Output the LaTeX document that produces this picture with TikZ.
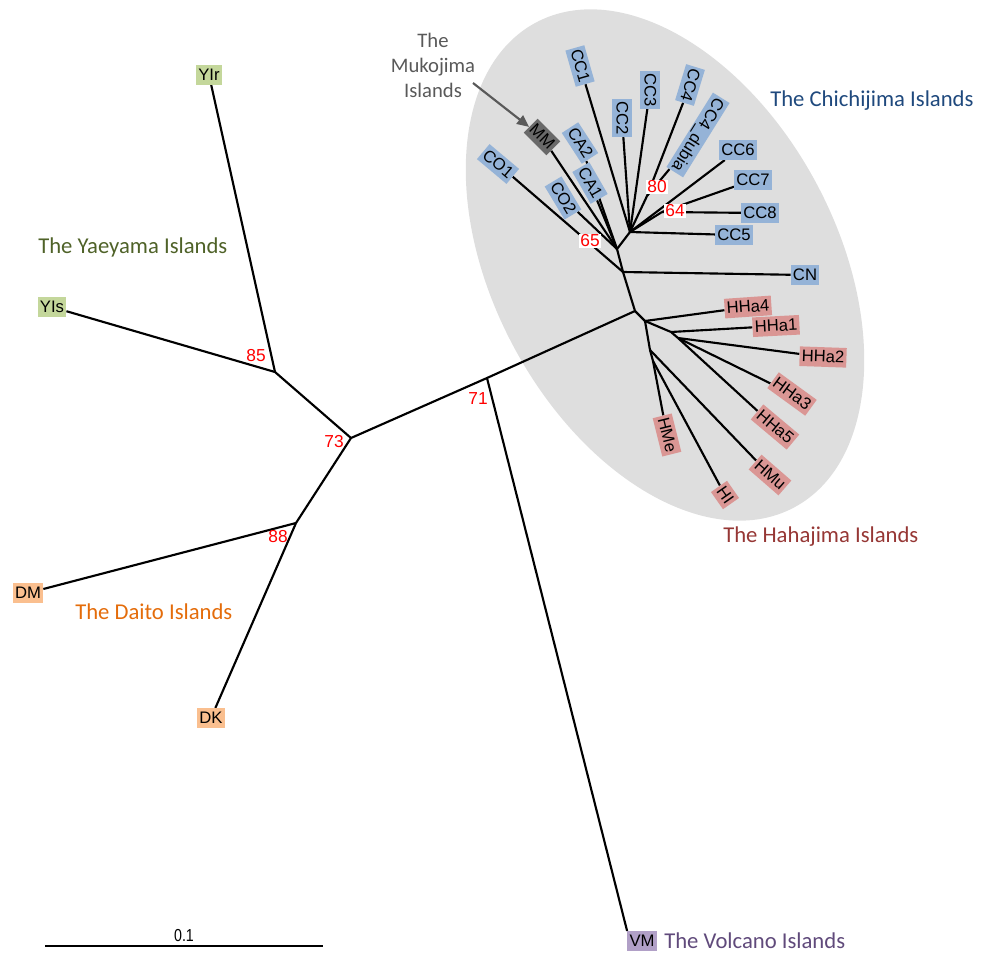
\documentclass[tikz,border=0pt]{standalone}
\usepackage{fontspec}
\setmainfont{Liberation Sans}
\newfontfamily\calibrifont{Carlito}
\usetikzlibrary{arrows.meta}
\definecolor{ellgray}{RGB}{222,222,222}
\definecolor{cbblue}{RGB}{149,179,215}
\definecolor{hpink}{RGB}{218,150,148}
\definecolor{ygreen}{RGB}{196,215,155}
\definecolor{dorange}{RGB}{250,191,143}
\definecolor{vpurple}{RGB}{177,160,199}
\definecolor{mmgray}{RGB}{105,105,105}
\definecolor{chichi}{RGB}{31,73,125}
\definecolor{haha}{RGB}{150,55,53}
\definecolor{yaeyama}{RGB}{79,98,40}
\definecolor{daito}{RGB}{228,108,10}
\definecolor{volcano}{RGB}{96,74,123}
\definecolor{muko}{RGB}{89,89,89}
\pgfdeclarelayer{back}
\pgfdeclarelayer{edges}
\pgfsetlayers{back,edges,main}
\begin{document}
\begin{tikzpicture}[x=0.75pt,y=-0.75pt,
  edge/.style={line width=1.6pt, black},
  leaf/.style={font=\fontsize{12.5}{14}\selectfont, inner xsep=1.6pt, inner ysep=2.2pt, text height=9.1pt, text depth=1.2pt},
  cb/.style={leaf, fill=cbblue},
  hp/.style={leaf, fill=hpink},
  yg/.style={leaf, fill=ygreen},
  dor/.style={leaf, fill=dorange},
  vp/.style={leaf, fill=vpurple},
  boot/.style={text=red, font=\fontsize{13}{15}\selectfont, inner sep=1pt},
  bootw/.style={boot, fill=white},
  grp/.style={font=\calibrifont\fontsize{17}{20}\selectfont, inner sep=0pt, anchor=west},
]
\useasboundingbox (0,0) rectangle (992,953);
\begin{pgfonlayer}{back}
\fill[ellgray, rotate around={-62:(665,265)}] (665,265) ellipse [x radius=206pt, y radius=129pt];
\end{pgfonlayer}

% internal nodes
\coordinate (n73) at (351,438);
\coordinate (n85) at (275,372);
\coordinate (n88) at (296,523);
\coordinate (n71) at (487,378);
\coordinate (R) at (635,311);
\coordinate (Q) at (623,272);
\coordinate (P) at (617,249);
\coordinate (S) at (630,232);
\coordinate (n80) at (647,196);
\coordinate (n64) at (662,212);
\coordinate (H2) at (645,321);
\coordinate (Ha) at (671,332);
\coordinate (Hb) at (678,338);
\coordinate (H5) at (650,350);
\coordinate (Hc) at (653,361);

% leaves
\node[yg] (yir) at (209,75) {YIr};
\node[yg] (yis) at (52,307) {YIs};
\node[dor] (dm) at (28,593) {DM};
\node[dor] (dk) at (211,718) {DK};
\node[vp] (vm) at (642,941) {VM};
\node[cb, rotate=-74] (cc1) at (580,66) {CC1};
\node[cb, rotate=-90] (cc2) at (622,118) {CC2};
\node[cb, rotate=-90] (cc3) at (650,90) {CC3};
\node[cb, rotate=-107] (cc4) at (690,85) {CC4};
\node[cb, rotate=-122] (ccd) at (698,135) {CC4\_dubia};
\node[cb] (cc6) at (738,150) {CC6};
\node[cb] (cc7) at (753,180) {CC7};
\node[cb] (cc8) at (760,213) {CC8};
\node[cb] (cc5) at (734,235) {CC5};
\node[cb] (cn) at (805,275) {CN};
\node[leaf, fill=mmgray, rotate=-45] (mm) at (542,137) {MM};
\node[cb, rotate=-57] (ca2) at (580,143) {CA2};
\node[cb, rotate=-60] (ca1) at (590,183) {CA1};
\node[cb, rotate=-59] (co2) at (563,198) {CO2};
\node[cb, rotate=-40] (co1) at (498,164) {CO1};
\node[hp, rotate=4] (hha4) at (748,307) {HHa4};
\node[hp, rotate=3] (hha1) at (776,326) {HHa1};
\node[hp, rotate=-2] (hha2) at (823,357) {HHa2};
\node[hp, rotate=-36] (hha3) at (792,394) {HHa3};
\node[hp, rotate=-40] (hha5) at (775,427) {HHa5};
\node[hp, rotate=-41] (hmu) at (770,475) {HMu};
\node[hp, rotate=-55] (hi) at (725,495) {HI};
\node[hp, rotate=-76] (hme) at (667,435) {HMe};

% edges
\begin{pgfonlayer}{edges}
\draw[edge] (n73) -- (n85);
\draw[edge] (n85) -- (yir);
\draw[edge] (n85) -- (yis);
\draw[edge] (n73) -- (n88);
\draw[edge] (n88) -- (dm);
\draw[edge] (n88) -- (dk);
\draw[edge] (n73) -- (n71) -- (R);
\draw[edge] (n71) -- (vm.north west);
\draw[edge] (R) -- (Q);
\draw[edge] (Q) -- (cn);
\draw[edge] (Q) -- (co1);
\draw[edge] (Q) -- (P);
\draw[edge] (P) -- (mm);
\draw[edge] (P) -- (ca2);
\draw[edge] (P) -- (ca1);
\draw[edge] (P) -- (co2);
\draw[edge] (P) -- (S);
\draw[edge] (S) -- (cc1);
\draw[edge] (S) -- (cc2);
\draw[edge] (S) -- (cc3);
\draw[edge] (S) -- (n80);
\draw[edge] (n80) -- (cc4);
\draw[edge] (n80) -- (ccd);
\draw[edge] (S) -- (cc6);
\draw[edge] (S) -- (n64);
\draw[edge] (n64) -- (cc7);
\draw[edge] (n64) -- (cc8);
\draw[edge] (S) -- (cc5);
\draw[edge] (R) -- (H2);
\draw[edge] (H2) -- (hha4);
\draw[edge] (H2) -- (Ha);
\draw[edge] (Ha) -- (hha1);
\draw[edge] (Ha) -- (Hb);
\draw[edge] (Hb) -- (hha2);
\draw[edge] (Hb) -- (hha3);
\draw[edge] (Hb) -- (hha5);
\draw[edge] (H2) -- (H5);
\draw[edge] (H5) -- (hmu);
\draw[edge] (H5) -- (Hc);
\draw[edge] (Hc) -- (hme);
\draw[edge] (Hc) -- (hi);
\end{pgfonlayer}

% bootstrap values
\node[boot] (b85) at (256,356) {85};
\node[boot] (b73) at (334,442) {73};
\node[boot] (b88) at (278,537) {88};
\node[boot] (b71) at (478,399) {71};
\node[bootw] (b65) at (590,241) {65};
\node[bootw] (b80) at (657,187) {80};
\node[bootw] (b64) at (675,211) {64};

% group labels
\node[grp, text=chichi] (gchichi) at (770,101) {The Chichijima Islands};
\node[grp, text=yaeyama] (gyae) at (38,247) {The Yaeyama Islands};
\node[grp, text=daito] (gdaito) at (75,612) {The Daito Islands};
\node[grp, text=haha] (ghaha) at (723,537) {The Hahajima Islands};
\node[grp, text=volcano] (gvol) at (664,941) {The Volcano Islands};
\node[font=\calibrifont\fontsize{15.5}{18.75}\selectfont, text=muko, align=center, inner sep=0pt] (gmuko) at (433,65) {The\\Mukojima\\Islands};
\coordinate (mukostart) at (473,83);
\draw[line width=1.6pt, muko, -{Triangle[length=9pt,width=8pt]}] (mukostart) -- (mm);

% scale bar
\coordinate (sbl) at (45,946);
\coordinate (sbr) at (323,946);
\draw[line width=2.2pt] (sbl) -- (sbr);
\node[font=\addfontfeatures{FakeStretch=0.82}\fontsize{13}{15}\selectfont, inner sep=0pt] (sblab) at (184,936) {0.1};
\end{tikzpicture}
\end{document}
